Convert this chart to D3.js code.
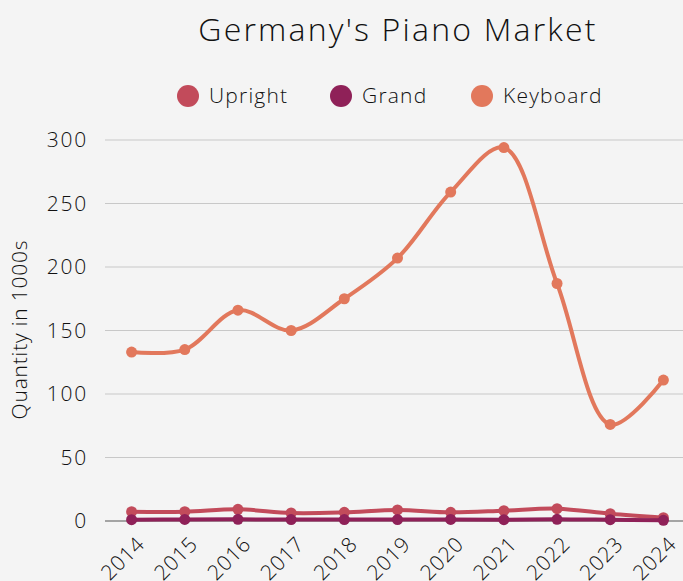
<!DOCTYPE html>
<html>
<head>
<meta charset="utf-8">
<script src="https://cdn.jsdelivr.net/npm/d3@7"></script>
<style>
  html, body { margin: 0; padding: 0; background: #f4f4f4; }
  svg { display: block; font-family: 'Open Sans', 'Lato', sans-serif; }
</style>
</head>
<body>
<div id="chart"></div>
<script>
const years = ['2014', '2015', '2016', '2017', '2018', '2019', '2020', '2021', '2022', '2023', '2024'];
const upright = [7.3, 7.3, 9.2, 6.3, 6.8, 8.7, 6.8, 8.1, 9.7, 5.7, 2.6];
const grand = [1, 1.2, 1.3, 1.1, 1.1, 1.1, 1.2, 1, 1.3, 1, 0.5];
const keyboard = [133, 135, 166, 150, 175, 207, 259, 294, 187, 76, 111];
const yTicks = [0, 50, 100, 150, 200, 250, 300];

const seriesList = [
  { name: 'Upright', values: upright, color: '#c24b5b' },
  { name: 'Grand', values: grand, color: '#8f2158' },
  { name: 'Keyboard', values: keyboard, color: '#e2785c' },
];

const width = 683;
const height = 581;

const svg = d3
  .select('#chart')
  .append('svg')
  .attr('width', width)
  .attr('height', height);

svg.append('rect').attr('width', width).attr('height', height).attr('fill', '#f4f4f4');

const x = d3.scalePoint().domain(years).range([105, 690]).padding(0.5);
const y = d3.scaleLinear().domain([0, 300]).range([521, 140]);

// title
svg
  .append('text')
  .attr('x', 398)
  .attr('y', 41)
  .attr('text-anchor', 'middle')
  .attr('fill', '#111')
  .style('font-size', '32px')
  .style('font-weight', 300)
  .style('letter-spacing', '2.2px')
  .text("Germany's Piano Market");

// legend
const legendX = [188, 341, 482];
const legend = svg
  .append('g')
  .selectAll('g')
  .data(seriesList)
  .join('g')
  .attr('transform', (d, i) => `translate(${legendX[i]},96)`);

legend.append('circle').attr('r', 11).attr('fill', (d) => d.color);
legend
  .append('text')
  .attr('x', 21)
  .attr('dy', '0.35em')
  .attr('fill', '#111')
  .style('font-size', '21px')
  .style('font-weight', 300)
  .style('letter-spacing', '1.2px')
  .text((d) => d.name);

// grid
svg
  .append('g')
  .selectAll('line')
  .data(yTicks.filter((t) => t > 0))
  .join('line')
  .attr('x1', 105)
  .attr('x2', width)
  .attr('y1', (d) => y(d))
  .attr('y2', (d) => y(d))
  .attr('stroke', '#c8c8c8')
  .attr('stroke-width', 1.2);

svg
  .append('line')
  .attr('x1', 105)
  .attr('x2', width)
  .attr('y1', y(0))
  .attr('y2', y(0))
  .attr('stroke', '#555')
  .attr('stroke-width', 1.2);

// y tick labels
svg
  .append('g')
  .selectAll('text')
  .data(yTicks)
  .join('text')
  .attr('x', 88)
  .attr('y', (d) => y(d))
  .attr('dy', '0.35em')
  .attr('text-anchor', 'end')
  .attr('fill', '#111')
  .style('font-size', '21px')
  .style('font-weight', 300)
  .style('letter-spacing', '1.8px')
  .text((d) => d);

// y title
svg
  .append('text')
  .attr('transform', `translate(27,${(140 + 521) / 2 - 1}) rotate(-90)`)
  .attr('text-anchor', 'middle')
  .attr('fill', '#111')
  .style('font-size', '21px')
  .style('font-weight', 300)
  .style('letter-spacing', '0.8px')
  .text('Quantity in 1000s');

// x tick labels
svg
  .append('g')
  .selectAll('text')
  .data(years)
  .join('text')
  .attr('transform', (d) => `translate(${x(d) + 4},${y(0) + 14}) rotate(-45)`)
  .attr('text-anchor', 'end')
  .attr('dy', '0.7em')
  .attr('fill', '#111')
  .style('font-size', '21px')
  .style('font-weight', 300)
  .style('letter-spacing', '0.8px')
  .text((d) => d);

// lines
const line = d3
  .line()
  .x((d, i) => x(years[i]))
  .y((d) => y(d))
  .curve(d3.curveCatmullRom.alpha(0.5));

const series = svg
  .append('g')
  .selectAll('g')
  .data(seriesList)
  .join('g');

series
  .append('path')
  .attr('d', (d) => line(d.values))
  .attr('fill', 'none')
  .attr('stroke', (d) => d.color)
  .attr('stroke-width', 4);

series
  .selectAll('circle')
  .data((d) => d.values.map((v, i) => ({ v, i, color: d.color })))
  .join('circle')
  .attr('cx', (d) => x(years[d.i]))
  .attr('cy', (d) => y(d.v))
  .attr('r', 5.5)
  .attr('fill', (d) => d.color);
</script>
</body>
</html>
